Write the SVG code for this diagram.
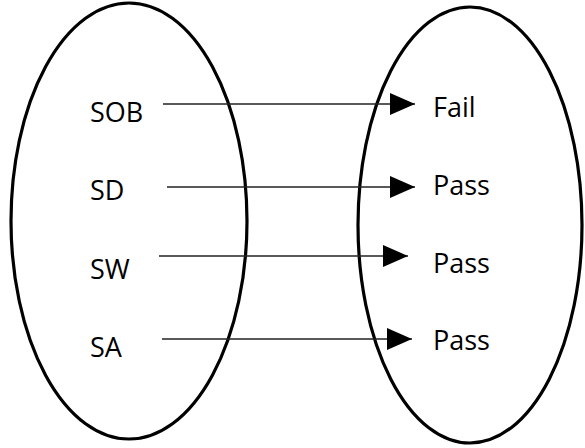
<svg xmlns="http://www.w3.org/2000/svg" width="585" height="448" viewBox="0 0 585 448">
<style>
.set{fill:none;stroke:#000;stroke-width:3.2}
.lbl{font-family:"Open Sans","Liberation Sans",sans-serif;font-size:27px;fill:#000}
.conn{stroke:#222;stroke-width:1.6;fill:none;marker-end:url(#ah)}
</style>
<defs>
<marker id="ah" markerUnits="userSpaceOnUse" markerWidth="26" markerHeight="24" refX="25" refY="11" orient="auto">
<path d="M0,0 L25,11 L0,22 Z" fill="#000"/>
</marker>
</defs>
<rect width="585" height="448" fill="#fff"/>
<g id="left-set"><ellipse class="set" cx="129" cy="221" rx="118" ry="218"/></g>
<g id="right-set"><ellipse class="set" cx="470" cy="225" rx="112" ry="218"/></g>
<g id="SOB"><text class="lbl" x="90" y="122">SOB</text></g>
<g id="SD"><text class="lbl" x="90" y="200">SD</text></g>
<g id="SW"><text class="lbl" x="90" y="279">SW</text></g>
<g id="SA"><text class="lbl" x="90" y="357">SA</text></g>
<g id="Fail"><text class="lbl" x="433" y="117">Fail</text></g>
<g id="Pass1"><text class="lbl" x="433" y="195">Pass</text></g>
<g id="Pass2"><text class="lbl" x="433" y="273">Pass</text></g>
<g id="Pass3"><text class="lbl" x="433" y="350">Pass</text></g>
<g id="connectors">
<line class="conn" x1="163" y1="104" x2="415" y2="104"/>
<line class="conn" x1="167" y1="187" x2="415" y2="187"/>
<line class="conn" x1="159" y1="256" x2="408" y2="256"/>
<line class="conn" x1="162" y1="339" x2="412" y2="339"/>
</g>
</svg>
